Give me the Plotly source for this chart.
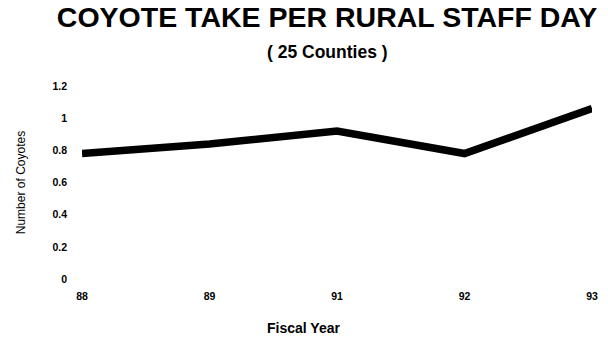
import plotly.graph_objects as go

years = ["88", "89", "91", "92", "93"]
coyotes = [0.78, 0.84, 0.92, 0.78, 1.06]
y_ticks = [0, 0.2, 0.4, 0.6, 0.8, 1, 1.2]
y_tick_text = ["0", "0.2", "0.4", "0.6", "0.8", "1", "1.2"]

W, H = 608, 337
FONT = "Liberation Sans, Arial, sans-serif"

fig = go.Figure()
fig.add_trace(go.Scatter(
    x=years, y=coyotes, mode="lines",
    line=dict(color="black", width=7.5),
    showlegend=False, hoverinfo="skip",
))

fig.update_layout(
    width=W, height=H,
    margin=dict(l=82, r=10, t=86, b=58),
    paper_bgcolor="white", plot_bgcolor="white",
    font=dict(family=FONT, color="black"),
    title=dict(
        text="<b>COYOTE TAKE PER RURAL STAFF DAY</b>",
        font=dict(family=FONT, size=28.5, color="black"),
        xref="paper", x=(330 - 82) / 516, xanchor="center",
        yref="container", y=1 - 17 / H, yanchor="middle",
    ),
    xaxis=dict(
        type="category", range=[0, 4],
        showgrid=False, showline=False, zeroline=False, ticks="",
        tickfont=dict(family=FONT, size=10.5, color="black", weight="bold"),
        ticklabelstandoff=9,
    ),
    yaxis=dict(
        range=[0, 1.2], tickvals=y_ticks, ticktext=y_tick_text,
        showgrid=False, showline=False, zeroline=False, ticks="",
        tickfont=dict(family=FONT, size=10.5, color="black", weight="bold"),
        ticklabelstandoff=14,
    ),
    annotations=[
        dict(text="<b>( 25 Counties )</b>", xref="paper", yref="paper",
             x=(330 - 82) / 516, y=1 + (86 - 52) / 193, xanchor="center", yanchor="middle",
             showarrow=False, font=dict(family=FONT, size=17.5, color="black")),
        dict(text="Number of Coyotes", xref="paper", yref="paper",
             x=(20 - 82) / 516, y=0.5, xanchor="center", yanchor="middle",
             textangle=-90, showarrow=False,
             font=dict(family=FONT, size=12, color="black")),
        dict(text="<b>Fiscal Year</b>", xref="paper", yref="paper",
             x=(306 - 82) / 516, y=-(328 - 279) / 193, xanchor="center", yanchor="middle",
             showarrow=False, font=dict(family=FONT, size=14, color="black")),
    ],
)

fig.write_html("out.html")
